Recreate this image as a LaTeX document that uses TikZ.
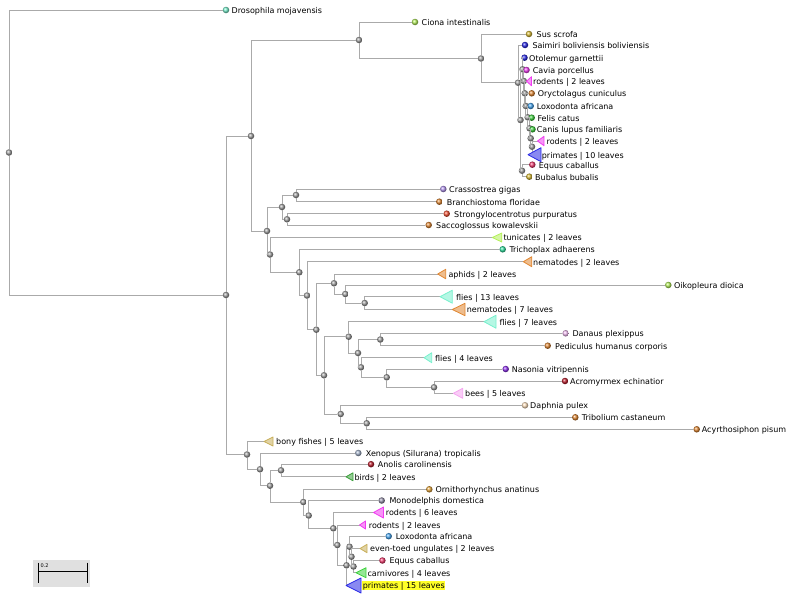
\documentclass[tikz,border=0pt]{standalone}
\usepackage{fontspec}
\setmainfont{DejaVu Sans}
\usetikzlibrary{positioning}
\definecolor{treegray}{RGB}{170,170,170}
\definecolor{tqaqua}{RGB}{120,240,205}
\definecolor{tqteal}{RGB}{50,225,160}
\definecolor{tqlime}{RGB}{180,240,90}
\definecolor{tqgold}{RGB}{215,185,50}
\definecolor{tqblue}{RGB}{40,40,230}
\definecolor{tqmagenta}{RGB}{240,60,240}
\definecolor{tqorange}{RGB}{225,135,50}
\definecolor{tqsky}{RGB}{70,165,240}
\definecolor{tqgreen}{RGB}{60,210,60}
\definecolor{tqpink}{RGB}{240,60,110}
\definecolor{tqlavender}{RGB}{180,150,240}
\definecolor{tqred}{RGB}{240,80,50}
\definecolor{tqlilac}{RGB}{240,185,240}
\definecolor{tqpurple}{RGB}{145,50,240}
\definecolor{tqdarkred}{RGB}{190,30,45}
\definecolor{tqrose}{RGB}{245,165,240}
\definecolor{tqpeach}{RGB}{255,225,190}
\definecolor{tqkhaki}{RGB}{200,175,90}
\definecolor{tqslate}{RGB}{165,180,205}
\definecolor{tqforest}{RGB}{60,160,60}
\definecolor{tqamber}{RGB}{230,165,60}
\definecolor{tqmauve}{RGB}{150,145,170}
\definecolor{tqhigh}{RGB}{255,255,40}
\tikzset{
  branch/.style={draw=treegray,line width=1pt},
  inode/.style={circle,inner sep=0pt,minimum size=6.5pt,ball color=gray!75},
  leaf/.style={circle,inner sep=0pt,minimum size=6.5pt,ball color=#1},
  clade/.style={draw=#1,fill=#1!55,line width=0.8pt,line join=round},
  lab/.style={anchor=west,inner sep=0pt,text height=6.6pt,text depth=0pt,font=\fontsize{8}{9}\selectfont}
}

\begin{document}
\begin{tikzpicture}[x=1pt,y=-1pt]
  \useasboundingbox (0,0) rectangle (791,600);
  % internal nodes
  \node[inode] (n0) at (9,152.5) {};
  \node[inode] (n1) at (226,295) {};
  \node[inode] (n2) at (251,136) {};
  \node[inode] (n3) at (359,40) {};
  \node[inode] (n4) at (481,58.5) {};
  \node[inode] (n5) at (518,82.7) {};
  \node[inode] (n6) at (520.5,120) {};
  \node[inode] (n7) at (522.5,69.3) {};
  \node[inode] (n8) at (523.8,81) {};
  \node[inode] (n9) at (524.8,93.3) {};
  \node[inode] (n10) at (525.8,106) {};
  \node[inode] (n11) at (527.7,117.3) {};
  \node[inode] (n12) at (529.5,128.3) {};
  \node[inode] (n13) at (530.7,138.3) {};
  \node[inode] (n14) at (532,146.7) {};
  \node[inode] (n15) at (522,170.7) {};
  \node[inode] (n16) at (267,231) {};
  \node[inode] (n17) at (282,207) {};
  \node[inode] (n18) at (296,195) {};
  \node[inode] (n19) at (287,219.3) {};
  \node[inode] (n20) at (270,254.5) {};
  \node[inode] (n21) at (299.3,272.3) {};
  \node[inode] (n22) at (307,295.5) {};
  \node[inode] (n23) at (316.3,329.7) {};
  \node[inode] (n24) at (334,283.3) {};
  \node[inode] (n25) at (345.3,294) {};
  \node[inode] (n26) at (364.7,303) {};
  \node[inode] (n27) at (324,375.3) {};
  \node[inode] (n28) at (348.7,336.7) {};
  \node[inode] (n29) at (358,353) {};
  \node[inode] (n30) at (380.3,339.5) {};
  \node[inode] (n31) at (361,367.3) {};
  \node[inode] (n32) at (386.7,377.3) {};
  \node[inode] (n33) at (434,387.3) {};
  \node[inode] (n34) at (340.7,414) {};
  \node[inode] (n35) at (366.7,423.3) {};
  \node[inode] (n36) at (247,454.5) {};
  \node[inode] (n37) at (260,469.3) {};
  \node[inode] (n38) at (270,485.7) {};
  \node[inode] (n39) at (281,470.3) {};
  \node[inode] (n40) at (303.3,502) {};
  \node[inode] (n41) at (308.7,515.5) {};
  \node[inode] (n42) at (333.3,528.3) {};
  \node[inode] (n43) at (337.3,545) {};
  \node[inode] (n44) at (346.5,565.3) {};
  \node[inode] (n45) at (349.5,546.7) {};
  \node[inode] (n46) at (351.5,556.7) {};
  \node[inode] (n47) at (353.5,566.5) {};
  % leaves
  \node[leaf=tqaqua] (drosmoj) at (226,10) {};
  \node[leaf=tqlime] (cioint) at (415,22) {};
  \node[leaf=tqgold] (susscr) at (529,34) {};
  \node[leaf=tqblue] (saibol) at (525,45) {};
  \node[leaf=tqblue] (otogar) at (524.5,57.7) {};
  \node[leaf=tqmagenta] (cavpor) at (526.5,70) {};
  \node[leaf=tqorange] (orycun) at (531.7,93.3) {};
  \node[leaf=tqsky] (loxafr) at (530.7,106) {};
  \node[leaf=tqgreen] (felcat) at (531.7,117.7) {};
  \node[leaf=tqgreen] (canlup) at (532.5,129.3) {};
  \node[leaf=tqpink] (equcab) at (532.3,164.7) {};
  \node[leaf=tqgold] (bubbub) at (529.3,176.7) {};
  \node[leaf=tqlavender] (cragig) at (443.3,189) {};
  \node[leaf=tqorange] (braflo) at (439.3,201.7) {};
  \node[leaf=tqred] (strpur) at (446.7,213.7) {};
  \node[leaf=tqorange] (sackow) at (428.7,225) {};
  \node[leaf=tqteal] (triadh) at (502.7,249.3) {};
  \node[leaf=tqlime] (oikdio) at (668.3,285) {};
  \node[leaf=tqlilac] (danple) at (565.7,333.3) {};
  \node[leaf=tqorange] (pedhum) at (547.7,345.7) {};
  \node[leaf=tqpurple] (nasvit) at (505.7,369) {};
  \node[leaf=tqdarkred] (acrech) at (565,381) {};
  \node[leaf=tqpeach] (dappul) at (525,405.3) {};
  \node[leaf=tqorange] (tricas) at (575.3,417.3) {};
  \node[leaf=tqorange] (acypis) at (696.7,429.3) {};
  \node[leaf=tqslate] (xentro) at (358.3,453) {};
  \node[leaf=tqdarkred] (anocar) at (371,464.2) {};
  \node[leaf=tqamber] (ornana) at (429.3,489.3) {};
  \node[leaf=tqmauve] (mondom) at (381.7,500.5) {};
  \node[leaf=tqsky] (loxafrb) at (388.7,536.2) {};
  \node[leaf=tqpink] (equcabb) at (382.4,560.5) {};
  % collapsed clades (tip coordinates)
  \coordinate (rodtwo) at (526.5,81.2);
  \coordinate (rodtwob) at (537.5,141);
  \coordinate (primten) at (528,154.7);
  \coordinate (tunic) at (492.3,237.5);
  \coordinate (nemtwo) at (523.3,261.7);
  \coordinate (aphid) at (437.7,274);
  \coordinate (flythirt) at (440,296.7);
  \coordinate (nemseven) at (452.3,309.5);
  \coordinate (flyseven) at (484,321.7);
  \coordinate (flyfour) at (424,357.7);
  \coordinate (beefive) at (453.3,393.3);
  \coordinate (bony) at (264,441.5);
  \coordinate (bird) at (346,476.8);
  \coordinate (rodsix) at (373.5,512.5);
  \coordinate (rodtwoc) at (359.5,525);
  \coordinate (evntoe) at (360,548.5);
  \coordinate (carniv) at (356,572.7);
  \coordinate (primfift) at (346,585.5);
  % branches
  \draw[branch] (n0) |- (drosmoj);
  \draw[branch] (n0) |- (n1);
  \draw[branch] (n1) |- (n2);
  \draw[branch] (n1) |- (n36);
  \draw[branch] (n2) |- (n3);
  \draw[branch] (n2) |- (n16);
  \draw[branch] (n3) |- (cioint);
  \draw[branch] (n3) |- (n4);
  \draw[branch] (n4) |- (susscr);
  \draw[branch] (n4) |- (n5);
  \draw[branch] (n5) |- (saibol);
  \draw[branch] (n5) |- (n6);
  \draw[branch] (n6) |- (n7);
  \draw[branch] (n6) |- (n15);
  \draw[branch] (n7) |- (otogar);
  \draw[branch] (n7) |- (n8);
  \draw[branch] (n8) |- (cavpor);
  \draw[branch] (n8) |- (n9);
  \draw[branch] (n9) |- (rodtwo);
  \draw[branch] (n9) |- (n10);
  \draw[branch] (n10) |- (orycun);
  \draw[branch] (n10) |- (n11);
  \draw[branch] (n11) |- (loxafr);
  \draw[branch] (n11) |- (n12);
  \draw[branch] (n12) |- (felcat);
  \draw[branch] (n12) |- (n13);
  \draw[branch] (n13) |- (canlup);
  \draw[branch] (n13) |- (n14);
  \draw[branch] (n14) |- (rodtwob);
  \draw[branch] (n14) |- (primten);
  \draw[branch] (n15) |- (equcab);
  \draw[branch] (n15) |- (bubbub);
  \draw[branch] (n16) |- (n17);
  \draw[branch] (n16) |- (n20);
  \draw[branch] (n17) |- (n18);
  \draw[branch] (n17) |- (n19);
  \draw[branch] (n18) |- (cragig);
  \draw[branch] (n18) |- (braflo);
  \draw[branch] (n19) |- (strpur);
  \draw[branch] (n19) |- (sackow);
  \draw[branch] (n20) |- (tunic);
  \draw[branch] (n20) |- (n21);
  \draw[branch] (n21) |- (triadh);
  \draw[branch] (n21) |- (n22);
  \draw[branch] (n22) |- (nemtwo);
  \draw[branch] (n22) |- (n23);
  \draw[branch] (n23) |- (n24);
  \draw[branch] (n23) |- (n27);
  \draw[branch] (n24) |- (aphid);
  \draw[branch] (n24) |- (n25);
  \draw[branch] (n25) |- (oikdio);
  \draw[branch] (n25) |- (n26);
  \draw[branch] (n26) |- (flythirt);
  \draw[branch] (n26) |- (nemseven);
  \draw[branch] (n27) |- (n28);
  \draw[branch] (n27) |- (n34);
  \draw[branch] (n28) |- (flyseven);
  \draw[branch] (n28) |- (n29);
  \draw[branch] (n29) |- (n30);
  \draw[branch] (n29) |- (n31);
  \draw[branch] (n30) |- (danple);
  \draw[branch] (n30) |- (pedhum);
  \draw[branch] (n31) |- (flyfour);
  \draw[branch] (n31) |- (n32);
  \draw[branch] (n32) |- (nasvit);
  \draw[branch] (n32) |- (n33);
  \draw[branch] (n33) |- (acrech);
  \draw[branch] (n33) |- (beefive);
  \draw[branch] (n34) |- (dappul);
  \draw[branch] (n34) |- (n35);
  \draw[branch] (n35) |- (tricas);
  \draw[branch] (n35) |- (acypis);
  \draw[branch] (n36) |- (bony);
  \draw[branch] (n36) |- (n37);
  \draw[branch] (n37) |- (xentro);
  \draw[branch] (n37) |- (n38);
  \draw[branch] (n38) |- (n39);
  \draw[branch] (n38) |- (n40);
  \draw[branch] (n39) |- (anocar);
  \draw[branch] (n39) |- (bird);
  \draw[branch] (n40) |- (ornana);
  \draw[branch] (n40) |- (n41);
  \draw[branch] (n41) |- (mondom);
  \draw[branch] (n41) |- (n42);
  \draw[branch] (n42) |- (rodsix);
  \draw[branch] (n42) |- (n43);
  \draw[branch] (n43) |- (rodtwoc);
  \draw[branch] (n43) |- (n44);
  \draw[branch] (n44) |- (n45);
  \draw[branch] (n44) |- (primfift);
  \draw[branch] (n45) |- (loxafrb);
  \draw[branch] (n45) |- (n46);
  \draw[branch] (n46) |- (evntoe);
  \draw[branch] (n46) |- (n47);
  \draw[branch] (n47) |- (equcabb);
  \draw[branch] (n47) |- (carniv);
  % triangles
  \path[clade=tqmagenta] (rodtwo) -- ++(5,-4.5) -- ++(0,9) -- cycle;
  \path[clade=tqmagenta] (rodtwob) -- ++(6.5,-4.7) -- ++(0,9.4) -- cycle;
  \path[clade=tqblue] (primten) -- ++(13,-7) -- ++(0,14) -- cycle;
  \path[clade=tqlime] (tunic) -- ++(9.5,-4.5) -- ++(0,9) -- cycle;
  \path[clade=tqorange] (nemtwo) -- ++(8.5,-5) -- ++(0,10) -- cycle;
  \path[clade=tqorange] (aphid) -- ++(8,-4.7) -- ++(0,9.4) -- cycle;
  \path[clade=tqaqua] (flythirt) -- ++(12.3,-6.5) -- ++(0,13) -- cycle;
  \path[clade=tqorange] (nemseven) -- ++(12.7,-6.2) -- ++(0,12.4) -- cycle;
  \path[clade=tqaqua] (flyseven) -- ++(12,-6.5) -- ++(0,13) -- cycle;
  \path[clade=tqaqua] (flyfour) -- ++(7.7,-5) -- ++(0,10) -- cycle;
  \path[clade=tqrose] (beefive) -- ++(9.4,-5) -- ++(0,10) -- cycle;
  \path[clade=tqkhaki] (bony) -- ++(9,-4.5) -- ++(0,9) -- cycle;
  \path[clade=tqforest] (bird) -- ++(7,-4) -- ++(0,8) -- cycle;
  \path[clade=tqmagenta] (rodsix) -- ++(10,-5.5) -- ++(0,11) -- cycle;
  \path[clade=tqmagenta] (rodtwoc) -- ++(6,-4) -- ++(0,8) -- cycle;
  \path[clade=tqkhaki] (evntoe) -- ++(7,-4.2) -- ++(0,8.4) -- cycle;
  \path[clade=tqgreen] (carniv) -- ++(10,-5) -- ++(0,10) -- cycle;
  \path[clade=tqblue] (primfift) -- ++(15,-7.5) -- ++(0,15) -- cycle;
  % labels
  \node[lab] (l-drosmoj) at (231.5,10) {Drosophila mojavensis};
  \node[lab] (l-cioint) at (421.5,22) {Ciona intestinalis};
  \node[lab] (l-susscr) at (536.5,34) {Sus scrofa};
  \node[lab] (l-saibol) at (532.3,45) {Saimiri boliviensis boliviensis};
  \node[lab] (l-otogar) at (529,57.7) {Otolemur garnettii};
  \node[lab] (l-cavpor) at (532.7,70) {Cavia porcellus};
  \node[lab] (l-rodtwo) at (533,81.2) {rodents | 2 leaves};
  \node[lab] (l-orycun) at (537.7,93.3) {Oryctolagus cuniculus};
  \node[lab] (l-loxafr) at (536.7,106) {Loxodonta africana};
  \node[lab] (l-felcat) at (537.3,117.7) {Felis catus};
  \node[lab] (l-canlup) at (536.7,129.3) {Canis lupus familiaris};
  \node[lab] (l-rodtwob) at (546.5,141) {rodents | 2 leaves};
  \node[lab] (l-primten) at (541.7,154.7) {primates | 10 leaves};
  \node[lab] (l-equcab) at (538.7,164.7) {Equus caballus};
  \node[lab] (l-bubbub) at (535,176.7) {Bubalus bubalis};
  \node[lab] (l-cragig) at (449,189) {Crassostrea gigas};
  \node[lab] (l-braflo) at (446.7,201.7) {Branchiostoma floridae};
  \node[lab] (l-strpur) at (454,213.7) {Strongylocentrotus purpuratus};
  \node[lab] (l-sackow) at (436,225) {Saccoglossus kowalevskii};
  \node[lab] (l-tunic) at (503.3,237.5) {tunicates | 2 leaves};
  \node[lab] (l-triadh) at (509.3,249.3) {Trichoplax adhaerens};
  \node[lab] (l-nemtwo) at (533,261.7) {nematodes | 2 leaves};
  \node[lab] (l-aphid) at (448.3,274) {aphids | 2 leaves};
  \node[lab] (l-oikdio) at (674,285) {Oikopleura dioica};
  \node[lab] (l-flythirt) at (456,296.7) {flies | 13 leaves};
  \node[lab] (l-nemseven) at (466.7,309.5) {nematodes | 7 leaves};
  \node[lab] (l-flyseven) at (499.3,321.7) {flies | 7 leaves};
  \node[lab] (l-danple) at (572.3,333.3) {Danaus plexippus};
  \node[lab] (l-pedhum) at (555,345.7) {Pediculus humanus corporis};
  \node[lab] (l-flyfour) at (435,357.7) {flies | 4 leaves};
  \node[lab] (l-nasvit) at (511.7,369) {Nasonia vitripennis};
  \node[lab] (l-acrech) at (570,381) {Acromyrmex echinatior};
  \node[lab] (l-beefive) at (465,393.3) {bees | 5 leaves};
  \node[lab] (l-dappul) at (530,405.3) {Daphnia pulex};
  \node[lab] (l-tricas) at (581.7,417.3) {Tribolium castaneum};
  \node[lab] (l-acypis) at (701.7,429.3) {Acyrthosiphon pisum};
  \node[lab] (l-bony) at (276,441.5) {bony fishes | 5 leaves};
  \node[lab] (l-xentro) at (365.7,453) {Xenopus (Silurana) tropicalis};
  \node[lab] (l-anocar) at (377.7,464.2) {Anolis carolinensis};
  \node[lab] (l-bird) at (354.3,476.8) {birds | 2 leaves};
  \node[lab] (l-ornana) at (435.3,489.3) {Ornithorhynchus anatinus};
  \node[lab] (l-mondom) at (389.3,500.5) {Monodelphis domestica};
  \node[lab] (l-rodsix) at (385.7,512.5) {rodents | 6 leaves};
  \node[lab] (l-rodtwoc) at (368.7,525) {rodents | 2 leaves};
  \node[lab] (l-loxafrb) at (395.7,536.2) {Loxodonta africana};
  \node[lab] (l-evntoe) at (370,548.5) {even-toed ungulates | 2 leaves};
  \node[lab] (l-equcabb) at (389.3,560.5) {Equus caballus};
  \node[lab] (l-carniv) at (367.3,572.7) {carnivores | 4 leaves};
  \node[lab,fill=tqhigh,inner xsep=0.6pt,inner ysep=1.3pt] (l-primfift) at (362,585.5) {primates | 15 leaves};
  % scale bar
  \fill[black!12] (33.3,560) rectangle (90,586.7);
  \draw[line width=1.2pt] (38.3,562.7) -- (38.3,582.7) (87.7,562.7) -- (87.7,582.7) (38.3,571.7) -- (87.7,571.7);
  \node[anchor=west,inner sep=0pt,font=\fontsize{5}{5}\selectfont] (scalelab) at (40.5,566) {0.2};
\end{tikzpicture}
\end{document}
